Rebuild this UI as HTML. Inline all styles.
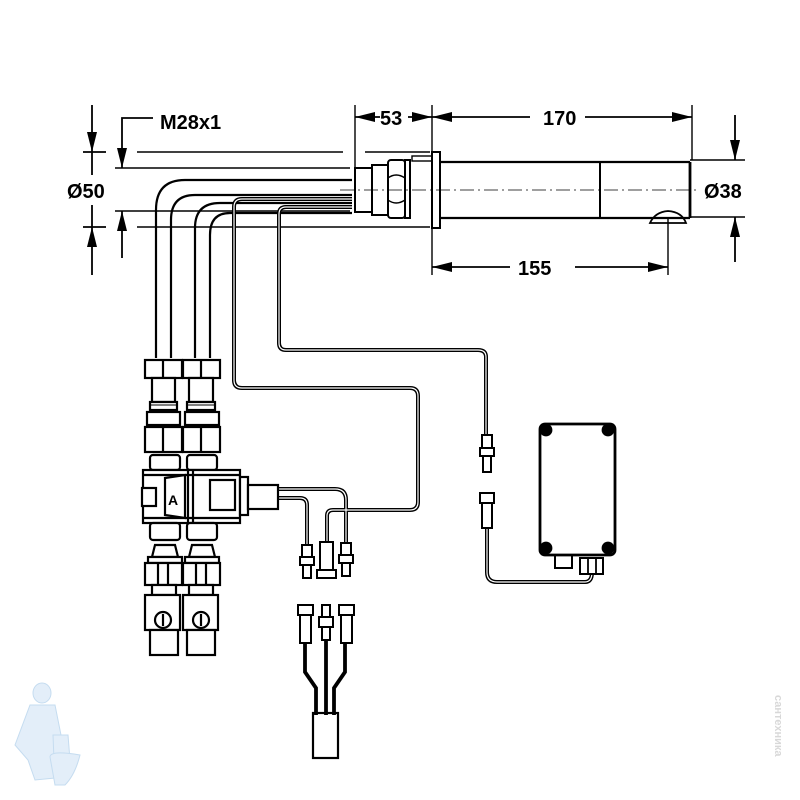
<!DOCTYPE html>
<html><head><meta charset="utf-8"><style>
html,body{margin:0;padding:0;background:#fff;}
svg{display:block}
text{font-family:"Liberation Sans",Arial,sans-serif;font-weight:bold;fill:#000}
</style></head><body>
<svg width="800" height="800" viewBox="0 0 800 800" xmlns="http://www.w3.org/2000/svg">
<defs>
<marker id="a" viewBox="0 0 10 10" refX="10" refY="5" markerWidth="20" markerHeight="10" orient="auto-start-reverse" markerUnits="userSpaceOnUse" preserveAspectRatio="none"><path d="M0,0 L10,5 L0,10 z" fill="#000"/></marker>
</defs>
<g fill="none" stroke="#000" stroke-width="1.8">
<!-- left dimension Ø50 -->
<line x1="92" y1="105" x2="92" y2="152" marker-end="url(#a)"/>
<line x1="92" y1="275" x2="92" y2="227" marker-end="url(#a)"/>
<line x1="92" y1="152" x2="92" y2="175"/>
<line x1="92" y1="205" x2="92" y2="227"/>
<line x1="83" y1="152" x2="106" y2="152"/>
<line x1="83" y1="227" x2="106" y2="227"/>
<!-- M28x1 -->
<polyline points="153,118 122,118 122,168" marker-end="url(#a)"/>
<line x1="122" y1="258" x2="122" y2="211" marker-end="url(#a)"/>
<line x1="115" y1="168" x2="350" y2="168" stroke-width="1.4"/>
<line x1="115" y1="211" x2="350" y2="211" stroke-width="1.4"/>
<line x1="137" y1="152" x2="343" y2="152" stroke-width="1.4"/>
<line x1="365" y1="152" x2="430" y2="152" stroke-width="1.4"/>
<line x1="137" y1="227" x2="430" y2="227" stroke-width="1.4"/>
<!-- top dims -->
<line x1="355" y1="105" x2="355" y2="172" stroke-width="1.4"/>
<line x1="432" y1="105" x2="432" y2="275" stroke-width="1.4"/>
<line x1="692" y1="105" x2="692" y2="160" stroke-width="1.4"/>
<line x1="380" y1="117" x2="355" y2="117" marker-end="url(#a)"/>
<line x1="408" y1="117" x2="432" y2="117" marker-end="url(#a)"/>
<line x1="460" y1="117" x2="432" y2="117" marker-end="url(#a)"/>
<line x1="530" y1="117" x2="460" y2="117"/>
<line x1="585" y1="117" x2="692" y2="117" marker-end="url(#a)"/>
<line x1="510" y1="267" x2="432" y2="267" marker-end="url(#a)"/>
<line x1="575" y1="267" x2="668" y2="267" marker-end="url(#a)"/>
<line x1="668" y1="218" x2="668" y2="275" stroke-width="1.4"/>
<!-- Ø38 -->
<line x1="735" y1="115" x2="735" y2="160" marker-end="url(#a)"/>
<line x1="735" y1="262" x2="735" y2="217" marker-end="url(#a)"/>
<line x1="690" y1="160" x2="745" y2="160" stroke-width="1.4"/>
<line x1="690" y1="217" x2="745" y2="217" stroke-width="1.4"/>
<!-- spout -->
<line x1="440" y1="162" x2="690" y2="162" stroke-width="2.2"/>
<line x1="440" y1="218" x2="690" y2="218" stroke-width="2.2"/>
<line x1="600" y1="162" x2="600" y2="218" stroke-width="2"/>
<line x1="690" y1="162" x2="690" y2="218" stroke-width="2.8"/>
<path d="M650,223 Q655,212 668,211 Q682,212 686,223 Z" stroke-width="1.8"/>
<line x1="340" y1="190" x2="700" y2="190" stroke-width="0.8" stroke-dasharray="14,4,2,4"/>
<!-- mount -->
<rect x="355" y="168" width="17" height="44" stroke-width="2"/>
<rect x="372" y="165" width="16" height="50" stroke-width="2"/>
<rect x="388" y="160" width="17" height="58" rx="3" stroke-width="2"/>
<path d="M388,178 Q396,172 405,178 M388,200 Q396,206 405,200" stroke-width="1.4"/>
<rect x="405" y="160" width="5" height="58" stroke-width="2"/>
<rect x="432" y="152" width="8" height="76" stroke-width="2"/>
<rect x="412" y="156" width="20" height="5" stroke-width="1.4"/>
<!-- pipes -->
<path d="M352,180 H185 Q156,180 156,210 V358" stroke-width="2.2"/>
<path d="M352,195 H195 Q171,195 171,220 V358" stroke-width="2.2"/>
<path d="M352,203 H220 Q195,203 195,228 V358" stroke-width="2.2"/>
<path d="M352,213 H230 Q210,213 210,235 V358" stroke-width="2.2"/>
<!-- wires -->
<g stroke-width="4">
<path d="M352,199 H242 Q234,199 234,207 V380 Q234,388 242,388 H410 Q418,388 418,396 V502 Q418,510 410,510 H333 Q327,510 327,516 V542"/>
<path d="M352,207 H286 Q279,207 279,214 V343 Q279,350 286,350 H478 Q486,350 486,357 V437"/>
<path d="M278,489 H335 Q346,489 346,500 V545"/>
<path d="M278,498 H300 Q307,498 307,505 V547"/>
<path d="M487,528 V572 Q487,582 497,582 H585 Q592,582 592,572"/>
</g>
<g stroke="#fff" stroke-width="1.2">
<path d="M352,199 H242 Q234,199 234,207 V380 Q234,388 242,388 H410 Q418,388 418,396 V502 Q418,510 410,510 H333 Q327,510 327,516 V542"/>
<path d="M352,207 H286 Q279,207 279,214 V343 Q279,350 286,350 H478 Q486,350 486,357 V437"/>
<path d="M278,489 H335 Q346,489 346,500 V545"/>
<path d="M278,498 H300 Q307,498 307,505 V547"/>
<path d="M487,528 V572 Q487,582 497,582 H585 Q592,582 592,572"/>
</g>
<!-- connectors near wire -->
<rect x="482" y="435" width="10" height="20" fill="#fff" stroke-width="2"/>
<rect x="480" y="448" width="14" height="8" fill="#fff" stroke-width="2"/>
<rect x="483" y="456" width="8" height="16" fill="#fff" stroke-width="2"/>
<rect x="480" y="493" width="14" height="10" fill="#fff" stroke-width="2"/>
<rect x="482" y="503" width="10" height="25" fill="#fff" stroke-width="2"/>
<!-- box -->
<rect x="540" y="424" width="75" height="131" rx="5" stroke-width="2.8"/>
<circle cx="546" cy="430" r="5.5" fill="#000"/><circle cx="608" cy="430" r="5.5" fill="#000"/>
<circle cx="546" cy="548" r="5.5" fill="#000"/><circle cx="608" cy="548" r="5.5" fill="#000"/>
<rect x="555" y="555" width="17" height="13" stroke-width="2"/>
<rect x="580" y="558" width="23" height="16" fill="#fff" stroke-width="2"/>
<line x1="588" y1="558" x2="588" y2="574"/><line x1="596" y1="558" x2="596" y2="574"/>
<!-- connectors under valve wires -->
<g fill="#fff" stroke-width="2">
<rect x="302" y="545" width="10" height="12"/>
<rect x="300" y="557" width="14" height="8"/>
<rect x="303" y="565" width="8" height="13"/>
<rect x="320" y="542" width="13" height="28"/>
<rect x="317" y="570" width="19" height="8"/>
<rect x="341" y="543" width="10" height="12"/>
<rect x="339" y="555" width="14" height="8"/>
<rect x="342" y="563" width="8" height="13"/>
</g>
<!-- bottom cable -->
<path d="M305,643 V672 L316,688 V715 M326,640 V715 M345,643 V672 L334,688 V715" stroke-width="3.8"/>
<g fill="#fff" stroke-width="2">
<rect x="298" y="605" width="15" height="10"/>
<rect x="300" y="615" width="11" height="28"/>
<rect x="322" y="605" width="8" height="12"/>
<rect x="319" y="617" width="14" height="10"/>
<rect x="322" y="627" width="8" height="13"/>
<rect x="339" y="605" width="15" height="10"/>
<rect x="341" y="615" width="11" height="28"/>
</g>
<rect x="313" y="713" width="25" height="45" stroke-width="2.2"/>
<!-- valve group -->
<g stroke-width="2.2" fill="#fff">
<rect x="145" y="360" width="37" height="18"/><line x1="163" y1="360" x2="163" y2="378"/>
<rect x="183" y="360" width="37" height="18"/><line x1="201" y1="360" x2="201" y2="378"/>
<rect x="152" y="378" width="23" height="24"/><rect x="189" y="378" width="24" height="24"/>
<rect x="150" y="402" width="27" height="8"/><rect x="187" y="402" width="28" height="8"/>
<line x1="150" y1="405" x2="177" y2="405" stroke-width="1"/><line x1="187" y1="405" x2="215" y2="405" stroke-width="1"/>
<rect x="147" y="412" width="33" height="13"/><rect x="185" y="412" width="34" height="13"/>
<rect x="145" y="427" width="37" height="25"/><line x1="163" y1="427" x2="163" y2="452"/>
<rect x="183" y="427" width="37" height="25"/><line x1="201" y1="427" x2="201" y2="452"/>
<rect x="150" y="455" width="30" height="15" rx="3"/><rect x="187" y="455" width="30" height="15" rx="3"/>
<rect x="143" y="470" width="97" height="53"/>
<line x1="143" y1="475" x2="240" y2="475"/><line x1="143" y1="518" x2="240" y2="518"/>
<line x1="188" y1="470" x2="188" y2="523"/><line x1="193" y1="470" x2="193" y2="523"/>
<rect x="142" y="488" width="14" height="18"/>
<path d="M165,478 L185,475 V518 L165,515 Z"/>
<rect x="210" y="480" width="25" height="30"/>
<rect x="240" y="477" width="8" height="38"/>
<rect x="248" y="485" width="30" height="24"/>
<rect x="150" y="523" width="30" height="17" rx="3"/><rect x="187" y="523" width="30" height="17" rx="3"/>
<path d="M155,545 H175 L178,557 H152 Z"/><path d="M192,545 H212 L215,557 H189 Z"/>
<rect x="148" y="557" width="34" height="6"/><rect x="185" y="557" width="34" height="6"/>
<rect x="145" y="563" width="37" height="22"/><rect x="183" y="563" width="37" height="22"/>
<line x1="158" y1="563" x2="158" y2="585"/><line x1="168" y1="563" x2="168" y2="585"/>
<line x1="196" y1="563" x2="196" y2="585"/><line x1="206" y1="563" x2="206" y2="585"/>
<rect x="152" y="585" width="24" height="10"/><rect x="189" y="585" width="24" height="10"/>
<rect x="145" y="595" width="35" height="35"/><rect x="183" y="595" width="35" height="35"/>
<circle cx="163" cy="620" r="8"/><circle cx="201" cy="620" r="8"/>
<line x1="163" y1="614" x2="163" y2="626"/><line x1="201" y1="614" x2="201" y2="626"/>
<rect x="150" y="630" width="28" height="25"/><rect x="187" y="630" width="28" height="25"/>
</g>
</g>
<text x="168" y="505" font-size="14">A</text>
<text x="160" y="129" font-size="20">M28x1</text>
<text x="67" y="198" font-size="20">Ø50</text>
<text x="380" y="125" font-size="20">53</text>
<text x="543" y="125" font-size="20">170</text>
<text x="518" y="275" font-size="20">155</text>
<text x="704" y="198" font-size="20">Ø38</text>
<!-- watermark figure -->
<g fill="#e3eef9" stroke="#c5dcf0" stroke-width="1">
<ellipse cx="42" cy="693" rx="9" ry="10"/>
<path d="M30,705 L55,705 L62,740 L55,778 L35,780 L28,760 L15,745 Z"/>
<path d="M53,735 L68,735 L70,760 Q80,775 60,785 L55,785 Z"/>
<path d="M50,757 Q50,750 80,755 Q75,775 65,785 L55,785 Z"/>
</g>
<text x="775" y="695" font-size="11" style="fill:#d8d8d8" transform="rotate(90 775 695)">сантехника</text>
</svg>
</body></html>
